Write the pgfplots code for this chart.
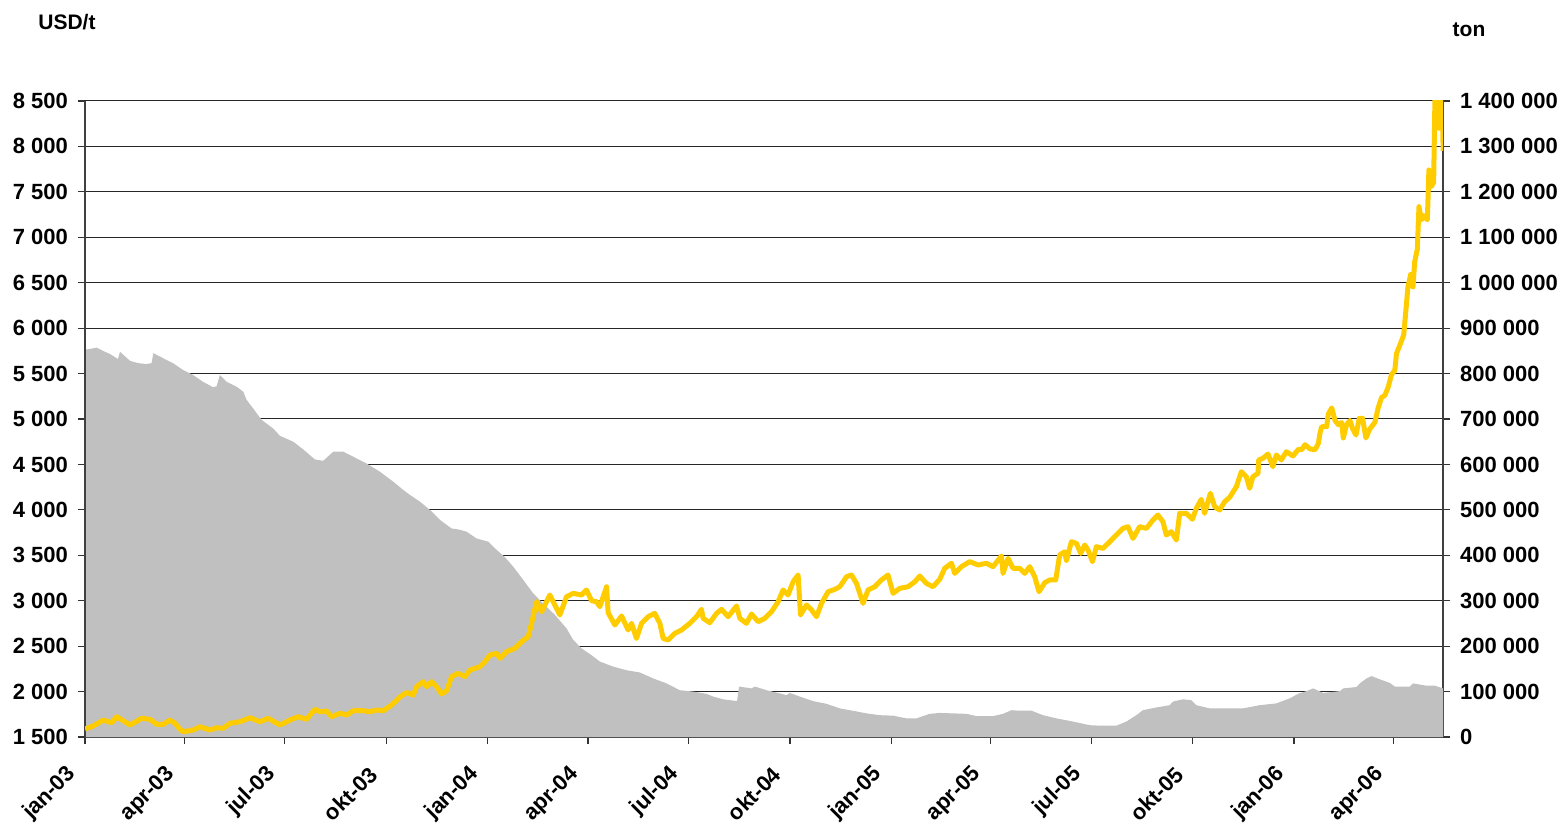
\documentclass[border=0pt]{standalone}
\usepackage{pgfplots}
\pgfplotsset{compat=1.18}
\usepackage{pgfplotstable}
\usepackage{fontspec}
\setmainfont{Liberation Sans}
\definecolor{cuyellow}{RGB}{255,204,0}
\definecolor{stockgrey}{RGB}{192,192,192}

\pgfplotstableread{
day price
0 1590
1.5 1596
7.5 1621
16.6 1687
24.2 1657
28.7 1723
34.7 1679
40.8 1632
51.4 1706
58.9 1695
65.0 1640
71.0 1640
77.0 1687
81.6 1651
86.1 1585
89.1 1558
98.1 1577
104.2 1613
113.3 1577
119.3 1602
125.3 1596
131.4 1651
140.5 1668
149.5 1712
158.6 1668
166.1 1706
176.7 1632
185.8 1687
193.3 1723
200.9 1695
208.4 1805
213.0 1778
219.0 1786
223.6 1723
231.1 1761
237.2 1742
243.1 1789
252.2 1789
258.3 1778
264.3 1797
270.3 1789
277.9 1852
285.5 1940
291.5 1990
297.5 1962
300.6 2054
306.6 2109
309.6 2054
314.2 2109
318.7 2054
323.2 1973
327.8 2010
332.3 2164
338.3 2201
344.4 2164
348.9 2237
358.0 2274
362.5 2329
367.0 2402
373.1 2421
376.1 2366
382.1 2439
389.7 2476
395.7 2549
401.7 2604
404.8 2751
409.3 2989
413.9 2879
421.4 3063
425.9 2953
430.4 2843
436.5 3044
442.5 3081
450.1 3063
454.6 3118
459.2 3000
463.7 2989
466.7 2934
472.8 3154
474.2 2868
480.3 2733
486.4 2832
492.3 2678
495.4 2751
499.9 2585
504.5 2751
510.5 2824
516.5 2861
521.1 2751
524.1 2585
528.6 2568
534.7 2641
540.7 2678
548.2 2751
554.3 2824
558.8 2905
560.3 2806
566.4 2758
572.5 2861
577.0 2905
583.0 2824
590.6 2942
593.6 2806
599.6 2751
604.2 2854
610.2 2769
616.2 2806
622.3 2879
628.3 2989
632.8 3118
637.3 3063
641.9 3209
646.4 3283
648.6 2843
654.0 2953
658.6 2898
663.1 2824
667.6 2971
673.6 3099
679.7 3125
684.2 3154
690.3 3264
694.8 3283
699.3 3191
705.3 2971
709.8 3118
715.9 3154
721.9 3228
727.9 3283
732.5 3081
738.5 3136
746.1 3154
752.2 3209
756.7 3272
762.7 3191
768.7 3154
774.8 3236
779.3 3357
785.4 3412
788.4 3301
794.5 3375
802.0 3430
809.5 3393
817.1 3412
823.1 3375
830.7 3492
832.2 3301
836.7 3466
841.2 3357
847.3 3357
851.8 3301
856.4 3375
860.9 3264
864.8 3099
870.0 3199
874.5 3228
879.9 3228
883.5 3503
888.1 3539
889.6 3440
894.1 3649
898.7 3631
902.6 3521
906.2 3613
909.2 3558
913.2 3430
916.8 3595
922.8 3576
928.9 3649
934.9 3723
940.9 3796
945.4 3815
950.0 3686
956.0 3815
962.1 3796
968.1 3888
972.6 3943
977.1 3870
980.2 3723
984.7 3760
989.3 3668
992.3 3962
998.3 3962
1003.8 3896
1007.4 4017
1011.9 4116
1014.9 3962
1020.1 4182
1024.0 4035
1028.5 3998
1033.1 4090
1037.6 4138
1043.7 4255
1048.2 4420
1052.7 4365
1055.7 4237
1058.7 4365
1063.3 4402
1063.9 4549
1067.8 4567
1072.3 4614
1076.8 4475
1079.9 4604
1084.4 4549
1089.0 4640
1095.0 4593
1100.0 4667
1102.9 4662
1105.9 4717
1110.4 4671
1115.0 4662
1118.0 4731
1119.5 4846
1121.0 4915
1125.5 4915
1127.0 5053
1130.1 5122
1133.1 4984
1136.1 4938
1139.1 4961
1140.6 4791
1143.6 4938
1146.6 4984
1149.1 4892
1152.1 4823
1155.1 5007
1158.1 5007
1161.1 4791
1164.7 4892
1169.2 4961
1172.2 5122
1175.3 5237
1178.3 5260
1181.3 5351
1184.3 5489
1187.3 5535
1188.8 5719
1191.8 5811
1195.4 5926
1199.2 6454
1201.7 6592
1203.8 6454
1205.3 6730
1207.7 6868
1209.2 7337
1211.4 7192
1213.7 7238
1216.8 7192
1218.2 7741
1220.4 7558
1222.5 7604
1223.9 8700
1225.2 8800
1227.3 8200
1228.6 8250
1229.5 8700
1230.4 8500
1231.1 7950
}\pricetable

\pgfplotstableread{
day stock
0 855000
1.5 853000
10.6 857000
16.3 850000
22.7 843000
29.9 832000
31.7 848000
40.8 828000
48.0 823000
55.9 821000
60.4 823000
61.9 845000
70.7 834000
79.7 823000
88.8 808000
97.9 797000
106.9 782000
116.0 770000
119.3 772000
122.3 797000
128.4 782000
137.5 771000
143.5 760000
146.5 742000
152.5 723000
160.1 698000
170.6 679000
176.7 663000
188.8 650000
197.8 633000
208.4 611000
216.0 608000
225.0 628000
234.1 628000
243.1 617000
255.3 602000
267.3 584000
279.4 562000
288.4 544000
294.5 533000
303.6 518000
312.6 500000
321.7 478000
332.3 459000
338.3 457000
345.9 452000
354.9 437000
365.5 430000
373.1 412000
380.6 396000
388.1 375000
397.2 346000
406.3 316000
415.3 294000
425.9 269000
436.5 239000
442.5 214000
450.1 195000
459.2 180000
466.7 166000
478.7 155000
490.9 147000
502.9 142000
515.0 129000
527.1 118000
539.2 103000
551.2 100000
563.4 95000
569.4 89000
578.4 83000
591.1 79000
592.9 111000
604.2 107000
607.2 111000
617.8 103000
629.8 96000
635.9 92000
638.9 97000
648.0 89000
660.0 79000
672.2 73000
684.2 63000
697.8 57000
708.4 52000
720.4 48000
732.5 47000
744.6 41000
753.7 41000
765.7 51000
774.8 53000
786.8 52000
799.0 51000
808.0 46000
823.1 46000
832.2 51000
839.8 59000
846.7 58000
857.9 58000
868.4 48000
880.6 41000
895.6 34000
910.7 26000
919.8 25000
934.9 25000
944.0 34000
953.0 48000
959.0 59000
971.1 65000
983.2 70000
986.2 78000
995.3 83000
1002.9 81000
1007.4 70000
1019.5 63000
1034.6 63000
1049.7 63000
1064.8 70000
1079.9 74000
1092.0 85000
1100.4 96000
1107.3 101000
1113.3 107000
1122.3 97000
1137.5 101000
1140.5 107000
1152.6 110000
1155.6 118000
1161.7 129000
1166.2 134000
1173.7 127000
1182.8 119000
1187.3 111000
1200.9 111000
1203.8 118000
1215.9 113000
1223.5 113000
1231 107000
}\stocktable

\begin{document}
\begin{tikzpicture}[font=\bfseries]
\useasboundingbox (0,0) rectangle (783pt,412pt);
\pgfplotsset{
  common/.style={
    at={(42.5pt,43.5pt)}, anchor=south west,
    scale only axis, width=679pt, height=318pt,
    xmin=0, xmax=1231,
    tick align=outside, major tick length=3.5pt,
    axis line style={black!75, line width=0.8pt},
    major tick style={black!80, line width=0.6pt},
    tick label style={font=\fontsize{11}{12}\bfseries},
  }
}
% stock axis (right)
\begin{axis}[common,
  ymin=0, ymax=1400000,
  axis x line*=bottom, axis y line*=right,
  xtick={0,90,181,273,365,456,547,639,731,821,912,1004,1096,1186},
  xticklabels={jan-03,apr-03,jul-03,okt-03,jan-04,apr-04,jul-04,okt-04,jan-05,apr-05,jul-05,okt-05,jan-06,apr-06},
  xticklabel style={xshift=-4pt, yshift=-11pt, rotate=45, anchor=east, font=\fontsize{11}{12}\bfseries},
  ytick={0,100000,200000,300000,400000,500000,600000,700000,800000,900000,1000000,1100000,1200000,1300000,1400000},
  yticklabels={0,100 000,200 000,300 000,400 000,500 000,600 000,700 000,800 000,900 000,1 000 000,1 100 000,1 200 000,1 300 000,1 400 000},
  yticklabel style={anchor=west, xshift=1.5pt},
  ymajorgrids, major grid style={black!85, line width=0.5pt},
  scaled y ticks=false,
]
\addplot[fill=stockgrey, draw=none] table[x=day, y=stock] {\stocktable} \closedcycle;
\end{axis}
% price axis (left)
\begin{axis}[common,
  ymin=1500, ymax=8500,
  axis y line*=left, axis x line=none,
  ytick={1500,2000,2500,3000,3500,4000,4500,5000,5500,6000,6500,7000,7500,8000,8500},
  yticklabels={1 500,2 000,2 500,3 000,3 500,4 000,4 500,5 000,5 500,6 000,6 500,7 000,7 500,8 000,8 500},
  yticklabel style={anchor=east, xshift=-1.5pt},
]
\addplot[color=cuyellow, line width=2.5pt, line join=round] table[x=day, y=price] {\pricetable};
\end{axis}
\node[font=\fontsize{10.5}{12}\bfseries] at (33.5pt,401pt) {USD/t};
\node[font=\fontsize{10.5}{12}\bfseries] at (734.5pt,397pt) {ton};
\end{tikzpicture}
\end{document}
